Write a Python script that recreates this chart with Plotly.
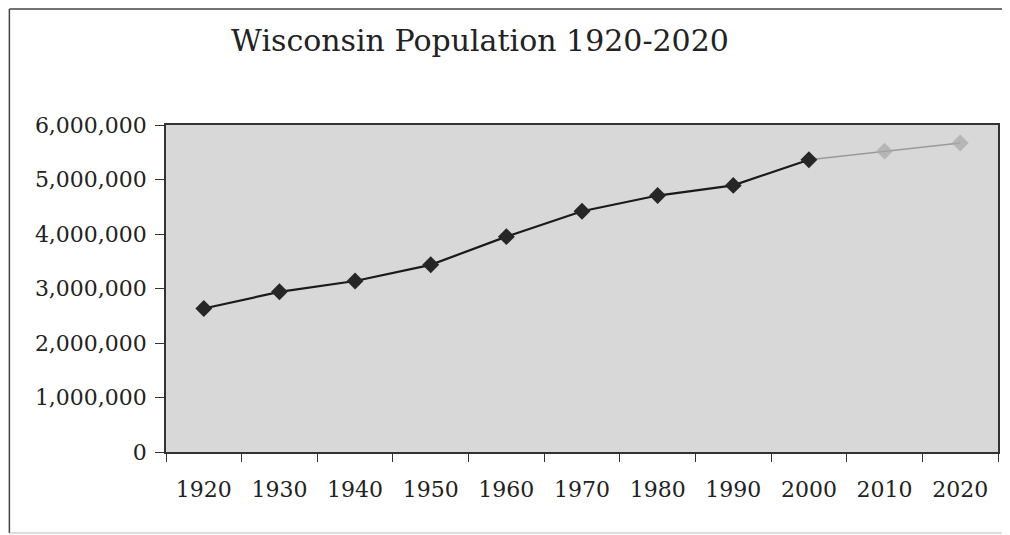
import plotly.graph_objects as go

years = ["1920", "1930", "1940", "1950", "1960", "1970", "1980", "1990", "2000"]
population = [2632067, 2939006, 3137587, 3434575, 3951777, 4417731, 4705767, 4891769, 5363675]
proj_years = ["2000", "2010", "2020"]
proj_population = [5363675, 5520000, 5670000]
all_years = years + proj_years[1:]
y_ticks = [0, 1000000, 2000000, 3000000, 4000000, 5000000, 6000000]
y_labels = ["0", "1,000,000", "2,000,000", "3,000,000", "4,000,000", "5,000,000", "6,000,000"]

FONT = "DejaVu Serif"

# page body has an 8px default margin; figure is sized to fill the remaining window
W, H = 1002, 527
L, R, T, B = 158, 10, 117, 83
pw, ph = W - L - R, H - T - B


def px(xw):
    return (xw - 8 - L) / pw


def py(yw):
    return (H - B - (yw - 8)) / ph


fig = go.Figure()
fig.add_trace(go.Scatter(
    x=proj_years, y=proj_population, mode="lines+markers",
    line=dict(color="#9a9a9a", width=1.5),
    marker=dict(symbol="diamond", size=[0, 13, 13], color="#a8a8a8",
                line=dict(width=0)),
    showlegend=False))
fig.add_trace(go.Scatter(
    x=years, y=population, mode="lines+markers",
    line=dict(color="#1a1a1a", width=2.2),
    marker=dict(symbol="diamond", size=13, color="#262626",
                line=dict(width=0)),
    showlegend=False))

# outer frame (left, top, bottom)
frame = dict(color="#444444", width=1.5)
fig.add_shape(type="line", xref="paper", yref="paper",
              x0=px(9), x1=px(9), y0=py(533), y1=py(9), line=frame)
fig.add_shape(type="line", xref="paper", yref="paper",
              x0=px(9), x1=px(1010), y0=py(9), y1=py(9), line=frame)
fig.add_shape(type="line", xref="paper", yref="paper",
              x0=px(9), x1=px(1010), y0=py(533), y1=py(533),
              line=dict(color="#bbbbbb", width=1))

fig.update_layout(
    width=W, height=H,
    margin=dict(l=L, r=R, t=T, b=B),
    paper_bgcolor="white",
    plot_bgcolor="#d8d8d8",
    font=dict(family=FONT, color="#222222"),
    title=dict(text="Wisconsin Population 1920-2020",
               x=(480 - 8) / W, xref="container", xanchor="center",
               y=1 - (40 - 8) / H, yref="container", yanchor="middle",
               font=dict(family=FONT, size=30, color="#222222")),
)
fig.update_xaxes(
    type="category", categoryorder="array", categoryarray=all_years,
    range=[-0.5, len(all_years) - 0.5],
    tickmode="array", tickvals=all_years, ticktext=all_years,
    tickson="boundaries", ticks="outside", ticklen=8, tickcolor="#333333",
    showline=True, linecolor="#333333", linewidth=1.5, mirror=True,
    showgrid=False, zeroline=False,
    tickfont=dict(family=FONT, size=22, color="#222222"),
    ticklabelstandoff=17,
)
fig.update_yaxes(
    range=[0, 6000000], tickmode="array", tickvals=y_ticks, ticktext=y_labels,
    ticks="outside", ticklen=9, tickcolor="#333333",
    showline=True, linecolor="#333333", linewidth=1.5, mirror=True,
    showgrid=False, zeroline=False,
    tickfont=dict(family=FONT, size=22, color="#222222"),
    ticklabelstandoff=4,
)

fig.write_html("out.html")
